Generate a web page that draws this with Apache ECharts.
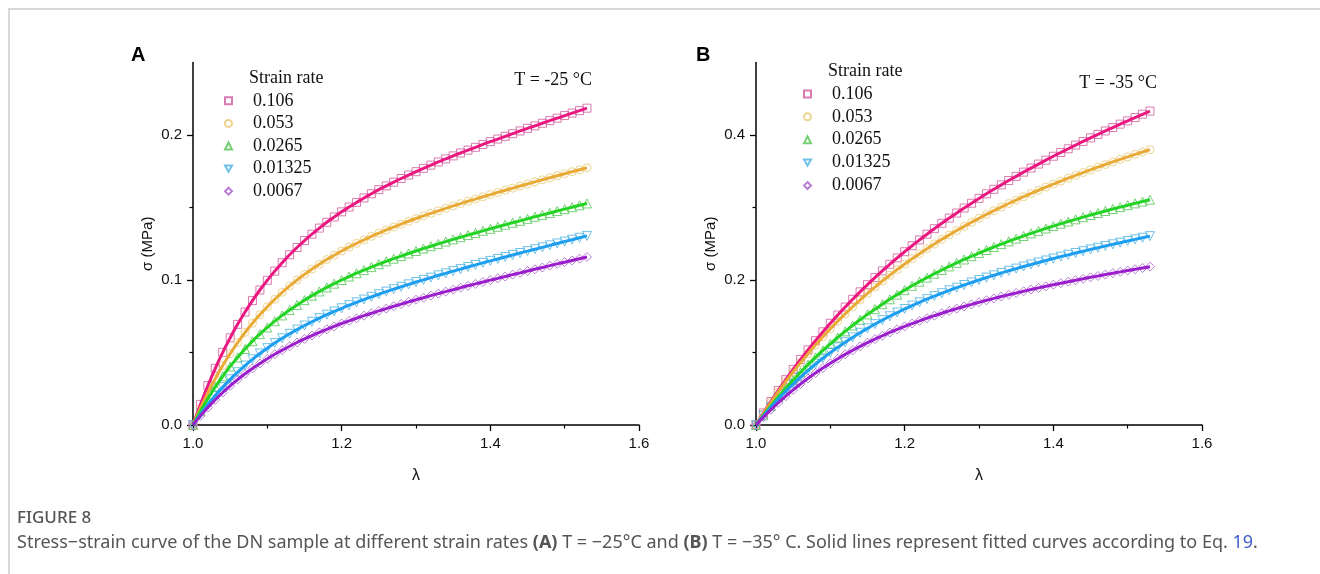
<!DOCTYPE html>
<html>
<head>
<meta charset="utf-8">
<script src="https://cdn.jsdelivr.net/npm/echarts@6/dist/echarts.min.js"></script>
<style>
  html, body { margin: 0; padding: 0; background: #fff; }
  #chart { width: 1320px; height: 574px; }
</style>
</head>
<body>
<div id="chart"></div>
<script>
// Stretch ratio λ, sampled every 0.01
const lambda = [1.00,1.01,1.02,1.03,1.04,1.05,1.06,1.07,1.08,1.09,
  1.10,1.11,1.12,1.13,1.14,1.15,1.16,1.17,1.18,1.19,
  1.20,1.21,1.22,1.23,1.24,1.25,1.26,1.27,1.28,1.29,
  1.30,1.31,1.32,1.33,1.34,1.35,1.36,1.37,1.38,1.39,
  1.40,1.41,1.42,1.43,1.44,1.45,1.46,1.47,1.48,1.49,
  1.50,1.51,1.52,1.53];

const rateLabels = ['0.106', '0.053', '0.0265', '0.01325', '0.0067'];

// Stress σ (MPa) at T = -25 °C
const sigmaA_0106 = [0,.0142,.0272,.0391,.0501,.0601,.0694,.0779,.0858,.0931,
  .0998,.1061,.1119,.1174,.1224,.1272,.1316,.1358,.1398,.1435,
  .1470,.1503,.1535,.1566,.1595,.1623,.1649,.1675,.1700,.1724,
  .1747,.1770,.1792,.1814,.1835,.1856,.1876,.1896,.1915,.1935,
  .1954,.1972,.1991,.2009,.2028,.2046,.2063,.2081,.2099,.2116,
  .2134,.2151,.2168,.2185];
const sigmaA_0053 = [0,.0116,.0223,.0320,.0410,.0492,.0568,.0638,.0702,.0761,
  .0816,.0867,.0915,.0959,.1000,.1039,.1075,.1109,.1141,.1171,
  .1200,.1227,.1253,.1277,.1301,.1323,.1345,.1365,.1385,.1405,
  .1424,.1442,.1460,.1477,.1494,.1511,.1527,.1543,.1558,.1574,
  .1589,.1604,.1619,.1633,.1648,.1662,.1677,.1691,.1705,.1719,
  .1733,.1747,.1760,.1774];
const sigmaA_00265 = [0,.0095,.0182,.0262,.0336,.0404,.0466,.0524,.0578,.0627,
  .0673,.0716,.0756,.0793,.0828,.0861,.0892,.0921,.0949,.0975,
  .1000,.1024,.1047,.1068,.1089,.1109,.1129,.1147,.1165,.1183,
  .1200,.1217,.1233,.1249,.1265,.1280,.1295,.1310,.1324,.1339,
  .1353,.1367,.1381,.1395,.1408,.1422,.1436,.1449,.1462,.1476,
  .1489,.1502,.1515,.1528];
const sigmaA_001325 = [0,.0074,.0141,.0204,.0261,.0315,.0364,.0410,.0453,.0493,
  .0530,.0565,.0598,.0629,.0658,.0686,.0712,.0737,.0761,.0783,
  .0805,.0826,.0846,.0865,.0884,.0902,.0920,.0937,.0953,.0970,
  .0986,.1001,.1016,.1032,.1046,.1061,.1075,.1090,.1104,.1118,
  .1132,.1145,.1159,.1172,.1186,.1199,.1212,.1225,.1239,.1252,
  .1265,.1278,.1291,.1304];
const sigmaA_00067 = [0,.0063,.0121,.0174,.0224,.0270,.0313,.0353,.0390,.0424,
  .0457,.0488,.0516,.0543,.0569,.0594,.0617,.0639,.0660,.0680,
  .0700,.0718,.0736,.0754,.0771,.0787,.0803,.0819,.0834,.0849,
  .0864,.0878,.0892,.0906,.0920,.0933,.0947,.0960,.0973,.0986,
  .0999,.1011,.1024,.1037,.1049,.1062,.1074,.1086,.1099,.1111,
  .1123,.1135,.1147,.1159];

// Stress σ (MPa) at T = -35 °C
const sigmaB_0106 = [0,.0166,.0325,.0478,.0625,.0767,.0904,.1036,.1163,.1285,
  .1403,.1517,.1627,.1734,.1837,.1936,.2033,.2126,.2217,.2305,
  .2390,.2473,.2553,.2632,.2708,.2782,.2854,.2924,.2993,.3059,
  .3125,.3189,.3251,.3312,.3372,.3430,.3488,.3544,.3599,.3653,
  .3707,.3759,.3810,.3861,.3911,.3960,.4008,.4056,.4103,.4150,
  .4195,.4241,.4286,.4330];
const sigmaB_0053 = [0,.0159,.0311,.0457,.0597,.0732,.0861,.0984,.1103,.1217,
  .1327,.1432,.1533,.1631,.1724,.1815,.1902,.1986,.2066,.2145,
  .2220,.2293,.2363,.2431,.2497,.2561,.2622,.2682,.2740,.2796,
  .2851,.2904,.2956,.3006,.3055,.3102,.3149,.3194,.3238,.3281,
  .3323,.3364,.3404,.3443,.3482,.3520,.3557,.3593,.3629,.3664,
  .3698,.3732,.3765,.3798];
const sigmaB_00265 = [0,.0135,.0264,.0388,.0506,.0619,.0728,.0832,.0932,.1028,
  .1119,.1207,.1292,.1373,.1451,.1526,.1598,.1667,.1734,.1798,
  .1860,.1920,.1977,.2033,.2086,.2138,.2188,.2236,.2283,.2328,
  .2372,.2414,.2455,.2495,.2533,.2571,.2607,.2643,.2677,.2711,
  .2744,.2776,.2807,.2837,.2867,.2896,.2924,.2952,.2979,.3005,
  .3031,.3057,.3082,.3107];
const sigmaB_001325 = [0,.0126,.0245,.0358,.0465,.0566,.0661,.0752,.0838,.0920,
  .0998,.1071,.1142,.1208,.1272,.1333,.1391,.1447,.1500,.1551,
  .1600,.1647,.1692,.1736,.1777,.1818,.1857,.1894,.1931,.1966,
  .2000,.2033,.2065,.2097,.2127,.2157,.2186,.2214,.2242,.2269,
  .2296,.2322,.2347,.2373,.2397,.2422,.2445,.2469,.2492,.2515,
  .2538,.2560,.2583,.2605];
const sigmaB_00067 = [0,.0108,.0210,.0307,.0398,.0484,.0566,.0643,.0716,.0785,
  .0851,.0914,.0974,.1030,.1084,.1136,.1185,.1231,.1276,.1319,
  .1360,.1399,.1437,.1473,.1508,.1542,.1574,.1605,.1635,.1664,
  .1693,.1720,.1746,.1772,.1797,.1821,.1845,.1868,.1891,.1913,
  .1935,.1956,.1977,.1997,.2017,.2037,.2056,.2075,.2094,.2112,
  .2130,.2148,.2166,.2184];

const xTicks = [1.0, 1.2, 1.4, 1.6];
const yTicksA = [0, 0.1, 0.2];
const yMinorA = [0.05, 0.15];
const yTicksB = [0, 0.2, 0.4];
const yMinorB = [0.1, 0.3];

const panelA = [sigmaA_0106, sigmaA_0053, sigmaA_00265, sigmaA_001325, sigmaA_00067];
const panelB = [sigmaB_0106, sigmaB_0053, sigmaB_00265, sigmaB_001325, sigmaB_00067];

const lineColors = ['#ea1880', '#e9aa38', '#24d424', '#1e9ef0', '#9b1ecc'];
const markColors = ['#cf5a9c', '#e6c870', '#52c452', '#4cb2e2', '#a75cc9'];
const symbols = ['rect', 'circle', 'triangle', 'path://M0,0L10,0L5,8.66Z', 'diamond'];
const symbolSizes = [8, 8, 9, 9, 9];

const SANS = '"Liberation Sans", Arial, sans-serif';
const SERIF = '"Liberation Serif", "Times New Roman", serif';
const CAPTION = '"Noto Sans", sans-serif';

function pts(ys) { return lambda.map((x, i) => [x, ys[i]]); }

const series = [];
[panelA, panelB].forEach((panel, p) => {
  // measured points (hollow markers)
  panel.forEach((ys, i) => {
    series.push({
      name: rateLabels[i],
      type: 'scatter',
      xAxisIndex: p, yAxisIndex: p * 2,
      data: pts(ys),
      symbol: symbols[i],
      symbolSize: symbolSizes[i],
      itemStyle: { color: 'rgba(255,255,255,0)', borderColor: markColors[i], borderWidth: 1 },
      z: 2, silent: true
    });
  });
  // fitted curves drawn over the points
  panel.forEach((ys, i) => {
    series.push({
      name: 'fit ' + rateLabels[i],
      type: 'line',
      xAxisIndex: p, yAxisIndex: p * 2,
      data: pts(ys),
      smooth: true,
      showSymbol: false,
      lineStyle: { color: lineColors[i], width: 3 },
      itemStyle: { color: lineColors[i] },
      z: 3, silent: true
    });
  });
});

function xAxisFor(grid) {
  return {
    type: 'value', gridIndex: grid, min: 1.0, max: 1.6, interval: 0.2,
    name: 'λ', nameLocation: 'middle', nameGap: 43,
    nameTextStyle: { fontFamily: SANS, fontSize: 16, color: '#111' },
    axisLine: { show: true, onZero: false, lineStyle: { color: '#000', width: 1.5 } },
    axisTick: { show: true, length: 6, lineStyle: { color: '#000', width: 1.3 } },
    minorTick: { show: true, splitNumber: 2, length: 3.5, lineStyle: { color: '#000', width: 1.2 } },
    axisLabel: { margin: 11, fontFamily: SANS, fontSize: 15, color: '#111',
      formatter: v => v.toFixed(1) },
    splitLine: { show: false }
  };
}

function yAxesFor(grid, max, interval, ticks, minor) {
  return [{
    type: 'value', gridIndex: grid, min: 0, max: max, interval: interval,
    name: 'σ (MPa)', nameLocation: 'middle', nameGap: 38,
    nameTextStyle: { fontFamily: SANS, fontSize: 15, color: '#111' },
    axisLine: { show: true, onZero: false, lineStyle: { color: '#000', width: 1.5 } },
    axisTick: { show: true, length: 6, lineStyle: { color: '#000', width: 1.3 }, customValues: ticks },
    axisLabel: { customValues: ticks, margin: 11, fontFamily: SANS, fontSize: 15, color: '#111',
      formatter: v => v.toFixed(1) },
    splitLine: { show: false }
  }, {
    type: 'value', gridIndex: grid, min: 0, max: max, interval: interval, position: 'left',
    axisLine: { show: false },
    axisTick: { show: true, length: 3.5, lineStyle: { color: '#000', width: 1.2 }, customValues: minor },
    axisLabel: { show: false },
    splitLine: { show: false }
  }];
}

function legendFor(left, top, gap) {
  return {
    data: rateLabels.map(n => ({ name: n })),
    orient: 'vertical', left: left, top: top, padding: 0,
    itemWidth: 7, itemHeight: 7, itemGap: 0,
    selectedMode: false,
    formatter: n => '{s|}' + n,
    textStyle: {
      fontFamily: SERIF, fontSize: 18, color: '#111', lineHeight: gap,
      rich: { s: { width: 16 } }
    }
  };
}

const option = {
  animation: false,
  backgroundColor: '#fff',
  grid: [
    { left: 193, top: 62.5, width: 446, height: 362.5 },
    { left: 756, top: 62.5, width: 446, height: 362.5 }
  ],
  xAxis: [xAxisFor(0), xAxisFor(1)],
  yAxis: [...yAxesFor(0, 0.25, 0.1, yTicksA, yMinorA), ...yAxesFor(1, 0.5, 0.2, yTicksB, yMinorB)],
  legend: [legendFor(224, 89.5, 22.6), legendFor(803, 82.5, 22.9)],
  series: series,
  graphic: [
    { type: 'rect', z: -1, silent: true, shape: { x: 9, y: 9, width: 1400, height: 700 },
      style: { fill: 'none', stroke: '#d8d8d8', lineWidth: 2 } },
    { type: 'text', x: 131, y: 55, silent: true,
      style: { text: 'A', font: 'bold 20px ' + SANS, fill: '#000', textVerticalAlign: 'middle' } },
    { type: 'text', x: 696, y: 55, silent: true,
      style: { text: 'B', font: 'bold 20px ' + SANS, fill: '#000', textVerticalAlign: 'middle' } },
    { type: 'text', x: 249, y: 78, silent: true,
      style: { text: 'Strain rate', font: '18px ' + SERIF, fill: '#111', textVerticalAlign: 'middle' } },
    { type: 'text', x: 828, y: 71, silent: true,
      style: { text: 'Strain rate', font: '18px ' + SERIF, fill: '#111', textVerticalAlign: 'middle' } },
    { type: 'text', x: 592, y: 80, silent: true,
      style: { text: 'T = -25 °C', font: '18px ' + SERIF, fill: '#111', textAlign: 'right', textVerticalAlign: 'middle' } },
    { type: 'text', x: 1157, y: 83.5, silent: true,
      style: { text: 'T = -35 °C', font: '18px ' + SERIF, fill: '#111', textAlign: 'right', textVerticalAlign: 'middle' } },
    { type: 'text', x: 17, y: 518, silent: true,
      style: { text: 'FIGURE 8', font: '500 17px ' + CAPTION, fill: '#555', textVerticalAlign: 'middle' } },
    { type: 'text', x: 17, y: 543, silent: true,
      style: {
        text: 'Stress−strain curve of the DN sample at different strain rates {b|(A)} T = −25°C and {b|(B)} T = −35° C. Solid lines represent fitted curves according to Eq. {l|19}.',
        font: '18px ' + CAPTION, fill: '#555', textVerticalAlign: 'middle',
        rich: {
          b: { font: 'bold 18px ' + CAPTION, fill: '#555' },
          l: { font: '18px ' + CAPTION, fill: '#3f5fc8' }
        }
      } }
  ]
};

const chart = echarts.init(document.getElementById('chart'), null, { renderer: 'canvas' });
chart.setOption(option);
</script>
</body>
</html>
